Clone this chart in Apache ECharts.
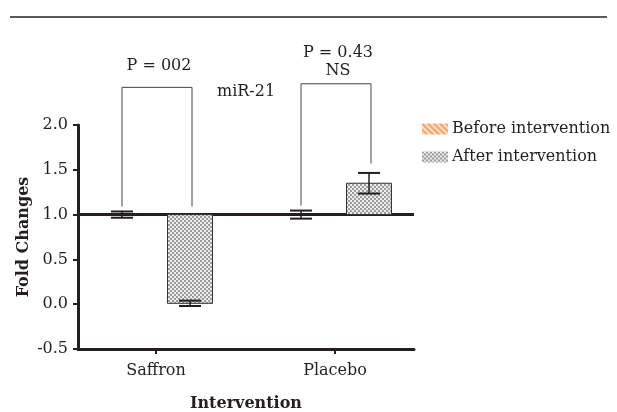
<!DOCTYPE html>
<html>
<head>
<meta charset="utf-8">
<script src="https://cdn.jsdelivr.net/npm/echarts@6/dist/echarts.min.js"></script>
<style>html,body{margin:0;padding:0;background:#fff;}#c{width:617px;height:412px;}</style>
</head>
<body>
<div id="c"></div>
<script>
// ---- data ----
const categories = ['Saffron', 'Placebo'];
const seriesNames = ['Before intervention', 'After intervention'];
const beforeMean = [1.0, 1.0];
const beforeErr = [0.035, 0.045];
const afterMean = [0.01, 1.35];
const afterErr = [0.03, 0.115];
const yTicks = [-0.5, 0.0, 0.5, 1.0, 1.5, 2.0];
const baselineValue = 1.0;
const pLabels = ['P = 002', 'P = 0.43\nNS'];
const pLabelY = [2.66, 2.70];
const bracketTop = [2.42, 2.46];
const bracketLeftEnd = [1.09, 1.10];
const bracketRightEnd = [1.09, 1.57];
const panelTitle = 'miR-21';

// ---- styles ----
const FONT = 'DejaVu Serif';
const INK = '#231f20';
const BAR_W = 45;
const BAR_OFF = 34;
const CAP_W = 22;

function makeChecker() {
  const c = document.createElement('canvas');
  c.width = 4; c.height = 4;
  const g = c.getContext('2d');
  g.fillStyle = '#ededed'; g.fillRect(0, 0, 4, 4);
  g.fillStyle = '#9c9c9c'; g.fillRect(0, 0, 2, 2); g.fillRect(2, 2, 2, 2);
  return c;
}
function makeHatch() {
  const c = document.createElement('canvas');
  c.width = 6; c.height = 6;
  const g = c.getContext('2d');
  g.fillStyle = '#fde3cb'; g.fillRect(0, 0, 6, 6);
  g.strokeStyle = '#f0a068'; g.lineWidth = 2;
  g.beginPath();
  g.moveTo(-1, -1); g.lineTo(7, 7);
  g.moveTo(-4, 2); g.lineTo(1, 7);
  g.moveTo(2, -4); g.lineTo(7, 1);
  g.stroke();
  return c;
}
const checker = { image: makeChecker(), repeat: 'repeat' };
const hatch = { image: makeHatch(), repeat: 'repeat' };

function barRenderer(offset, fill) {
  return function (params, api) {
    const x = api.value(0), m = api.value(1), e = api.value(2);
    const base = api.coord([x, baselineValue]);
    const top = api.coord([x, m]);
    const cx = base[0] + offset;
    const y0 = Math.min(base[1], top[1]);
    const h = Math.abs(base[1] - top[1]);
    const hi = api.coord([x, m + e])[1];
    const lo = api.coord([x, m - e])[1];
    const children = [];
    if (h > 0.5) {
      children.push({ type: 'rect', shape: { x: cx - BAR_W / 2, y: y0, width: BAR_W, height: h },
        style: { fill: fill, stroke: '#333', lineWidth: 1 } });
    }
    children.push({ type: 'line', shape: { x1: cx, y1: hi, x2: cx, y2: lo }, style: { stroke: INK, lineWidth: 1.5 } });
    children.push({ type: 'line', shape: { x1: cx - CAP_W / 2, y1: hi, x2: cx + CAP_W / 2, y2: hi }, style: { stroke: INK, lineWidth: 2 } });
    children.push({ type: 'line', shape: { x1: cx - CAP_W / 2, y1: lo, x2: cx + CAP_W / 2, y2: lo }, style: { stroke: INK, lineWidth: 2 } });
    return { type: 'group', children: children };
  };
}

function bracketRenderer(params, api) {
  const i = params.dataIndex;
  const x = api.value(0);
  const c = api.coord([x, bracketTop[i]]);
  const lx = c[0] - BAR_OFF, rx = c[0] + BAR_OFF + 2;
  const ty = c[1];
  const ly = api.coord([x, bracketLeftEnd[i]])[1];
  const ry = api.coord([x, bracketRightEnd[i]])[1];
  const labY = api.coord([x, pLabelY[i]])[1];
  return { type: 'group', children: [
    { type: 'polyline', shape: { points: [[lx, ly], [lx, ty], [rx, ty], [rx, ry]] },
      style: { stroke: '#444', lineWidth: 1, fill: null } },
    { type: 'text', style: { x: (lx + rx) / 2 + 2, y: labY, text: pLabels[i], align: 'center', verticalAlign: 'middle',
      font: '16px "' + FONT + '"', fill: INK, lineHeight: 18 } }
  ]};
}

const xMin = -78 / 179, xMax = 258 / 179;

const chart = echarts.init(document.getElementById('c'), null, { renderer: 'canvas' });
chart.setOption({
  animation: false,
  backgroundColor: '#fff',
  textStyle: { fontFamily: FONT },
  title: { text: panelTitle, left: 217, top: 84, padding: 0,
    textStyle: { fontFamily: FONT, fontSize: 16, fontWeight: 'normal', color: INK } },
  graphic: [{ type: 'line', shape: { x1: 10, y1: 17, x2: 607, y2: 17 }, style: { stroke: '#5a5a5a', lineWidth: 2 } }],
  legend: {
    data: seriesNames, orient: 'vertical', left: 422, top: 121, padding: 0,
    itemWidth: 26, itemHeight: 11, itemGap: 12, icon: 'rect',
    itemStyle: { borderWidth: 0 },
    textStyle: { fontFamily: FONT, fontSize: 16, color: INK, lineHeight: 16, padding: [0, 0, 0, -1] }
  },
  grid: { left: 78, right: 203, top: 125, bottom: 63, containLabel: false, outerBoundsMode: 'none' },
  xAxis: {
    type: 'value', min: xMin, max: xMax,
    name: 'Intervention', nameLocation: 'middle', nameGap: 47,
    nameTextStyle: { fontFamily: FONT, fontSize: 16, fontWeight: 'bold', color: INK },
    axisLine: { onZero: false, lineStyle: { color: INK, width: 3 } },
    axisTick: { show: true, length: 5, lineStyle: { color: INK, width: 2 }, customValues: [0, 1] },
    axisLabel: { customValues: [0, 1], margin: 14, fontFamily: FONT, fontSize: 16, color: INK,
      formatter: v => categories[Math.round(v)] },
    splitLine: { show: false }
  },
  yAxis: {
    type: 'value', min: -0.5, max: 2.0, interval: 0.5,
    name: 'Fold Changes', nameLocation: 'middle', nameGap: 46, nameMoveOverlap: false,
    nameTextStyle: { fontFamily: FONT, fontSize: 16, fontWeight: 'bold', color: INK },
    axisLine: { show: true, onZero: false, lineStyle: { color: INK, width: 3 } },
    axisTick: { show: true, length: 5, lineStyle: { color: INK, width: 2 } },
    axisLabel: { margin: 10, fontFamily: FONT, fontSize: 16, color: INK,
      formatter: v => (yTicks.indexOf(v) >= 0 ? v.toFixed(1) : '') },
    splitLine: { show: false }
  },
  series: [
    {
      name: seriesNames[0], type: 'custom', clip: false, z: 3,
      itemStyle: { color: hatch, borderWidth: 0 },
      renderItem: barRenderer(-BAR_OFF, hatch),
      data: categories.map((c, i) => [i, beforeMean[i], beforeErr[i]])
    },
    {
      name: seriesNames[1], type: 'custom', clip: false, z: 2,
      itemStyle: { color: checker, borderWidth: 0 },
      renderItem: barRenderer(BAR_OFF, checker),
      data: categories.map((c, i) => [i, afterMean[i], afterErr[i]]),
      markLine: {
        silent: true, symbol: 'none', z: 2,
        label: { show: false },
        lineStyle: { color: INK, width: 3, type: 'solid' },
        data: [{ yAxis: baselineValue }]
      }
    },
    {
      name: 'brackets', type: 'custom', clip: false, z: 4, silent: true,
      renderItem: bracketRenderer,
      data: categories.map((c, i) => [i, bracketTop[i]])
    }
  ]
});
</script>
</body>
</html>
